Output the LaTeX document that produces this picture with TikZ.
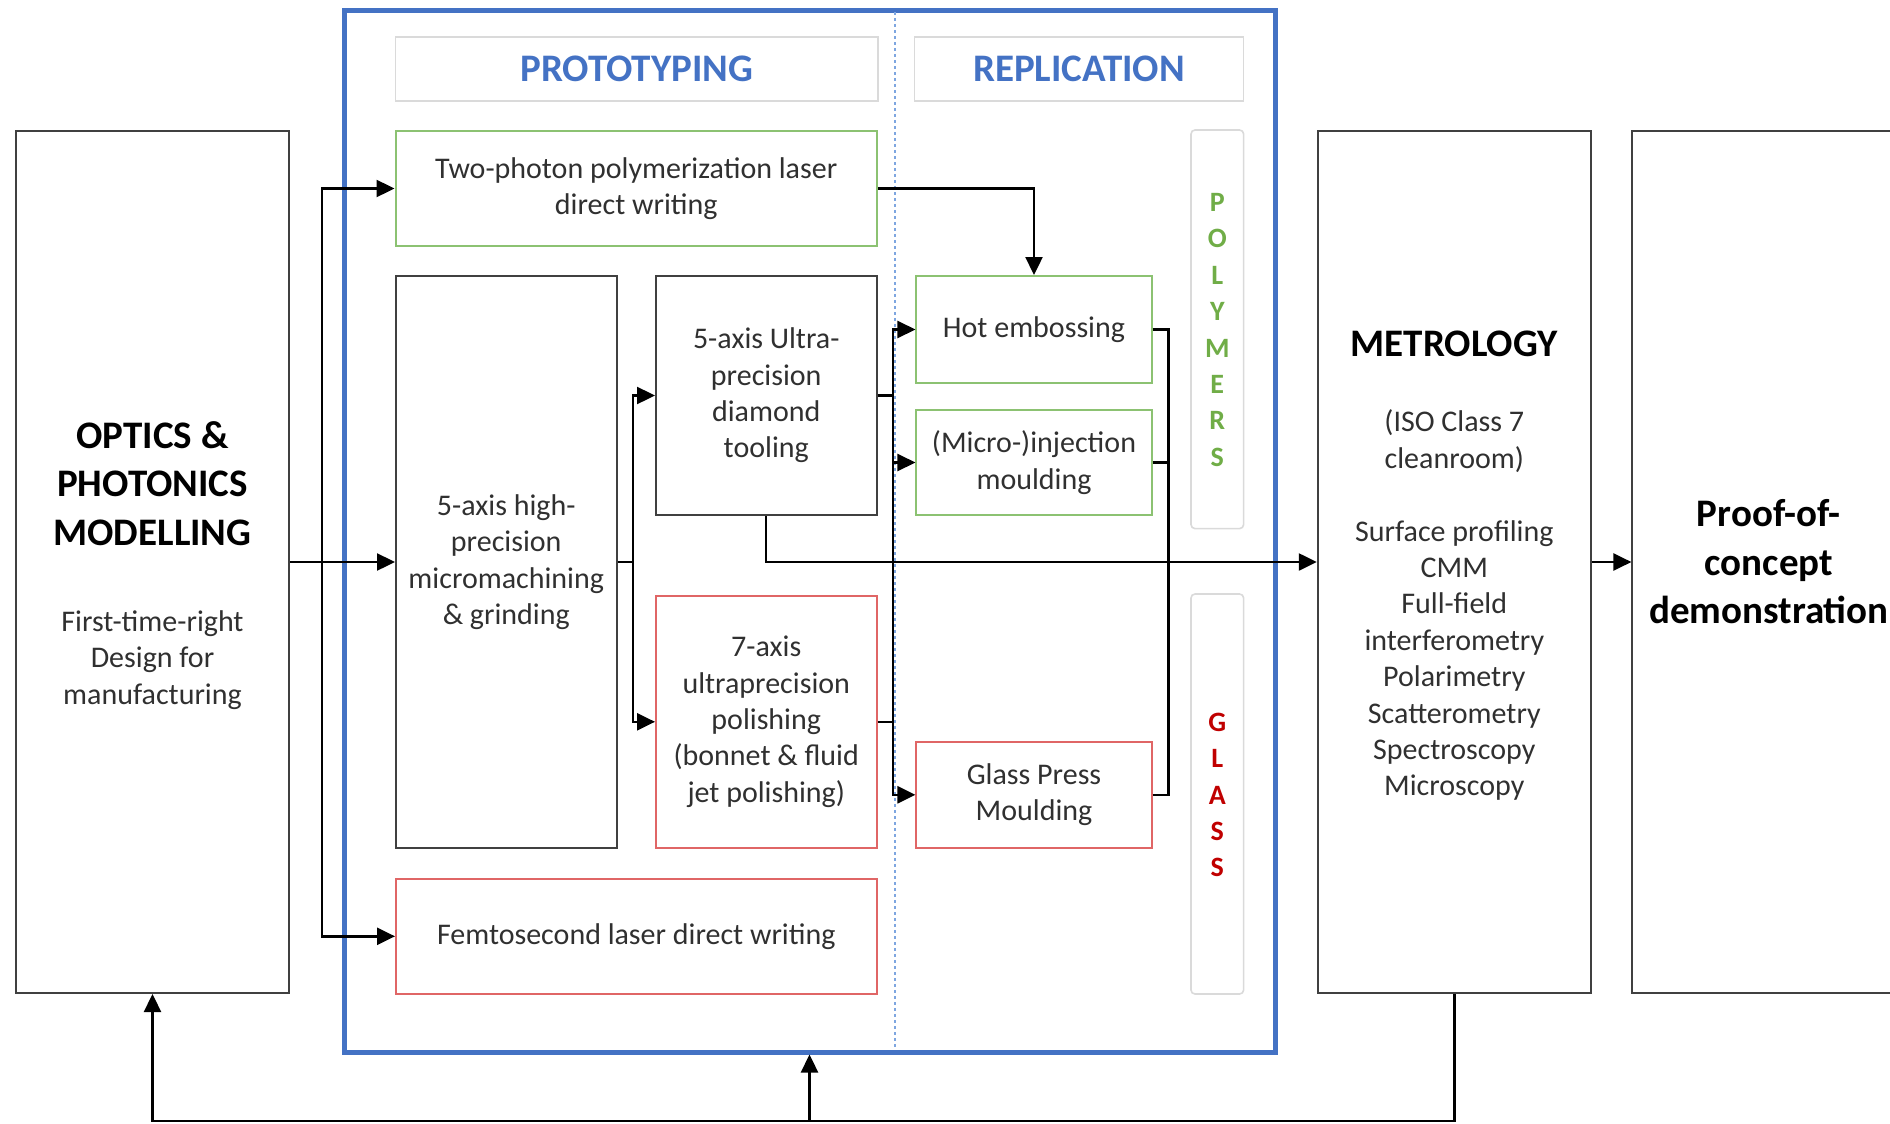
\documentclass[tikz,border=0pt]{standalone}
\usepackage{fontspec}
\setmainfont{Carlito}
\usetikzlibrary{arrows.meta}
\definecolor{frameblue}{HTML}{4472C4}
\definecolor{dotblue}{HTML}{7EA6E0}
\definecolor{gborder}{HTML}{8CC272}
\definecolor{rborder}{HTML}{E06666}
\definecolor{gtext}{HTML}{70AD47}
\definecolor{rtext}{HTML}{C00000}
\definecolor{kborder}{HTML}{404040}
\definecolor{hborder}{HTML}{DADADA}
\definecolor{bodytext}{HTML}{303030}
\begin{document}
\begin{tikzpicture}[x=0.5pt,y=-0.5pt,
  kbox/.style={draw=kborder, line width=1pt, rectangle, inner sep=0},
  gbox/.style={draw=gborder, line width=1pt, rectangle, inner sep=0},
  rbox/.style={draw=rborder, line width=1pt, rectangle, inner sep=0},
  hbox/.style={draw=hborder, line width=0.8pt, rectangle, inner sep=0},
  stripbox/.style={draw=hborder, line width=0.8pt, rectangle, rounded corners=2pt, inner sep=0},
  body/.style={align=center, text=bodytext, font=\fontsize{15}{18.2}\selectfont, inner sep=0},
  boldtxt/.style={align=center, font=\fontsize{19.5}{24.25}\selectfont\bfseries, inner sep=0},
  hdr/.style={font=\fontsize{19.5}{24}\selectfont\bfseries, text=frameblue, inner sep=0},
  vert/.style={align=center, font=\fontsize{14}{18.2}\selectfont\bfseries, inner sep=0},
  conn/.style={line width=1.2pt, draw=black},
  arr/.style={conn, -{Triangle[length=9pt,width=8.5pt]}}
]
\useasboundingbox (0,0) rectangle (1890,1124);

% outer blue frame and divider
\node[draw=frameblue, line width=2.5pt, minimum width=465.5pt, minimum height=521pt, inner sep=0] (frame) at (809.5,531) {};
\coordinate (dTop) at (894.6,12);
\coordinate (dBot) at (894.6,1050);
\draw[dotblue, line width=1pt, dash pattern=on 1.5pt off 1.5pt] (dTop) -- (dBot);

% headers
\node[hbox, minimum width=241.25pt, minimum height=32pt] (hdrP) at (636.75,69) {};
\node[hdr] (hdrPt) at (hdrP) {PROTOTYPING};
\node[hbox, minimum width=164.55pt, minimum height=32pt] (hdrR) at (1079,69) {};
\node[hdr] (hdrRt) at (hdrR) {REPLICATION};

% left box
\node[kbox, minimum width=136.5pt, minimum height=431pt] (opt) at (152.5,562) {};
\node[boldtxt] (optT) at (152.5,483.5) {OPTICS \&\\PHOTONICS\\MODELLING};
\node[body] (optS) at (152.5,660) {First-time-right\\Design for\\manufacturing};

% prototyping boxes
\node[gbox, minimum width=240.75pt, minimum height=57.5pt] (tp) at (636.25,188.5) {};
\node[body] (tpT) at (tp) {Two-photon polymerization laser\\direct writing};

\node[kbox, minimum width=110.25pt, minimum height=285.8pt] (hp) at (506.25,562) {};
\node[body] (hpT) at (hp) {5-axis high-\\precision\\micromachining\\\& grinding};

\node[kbox, minimum width=110.25pt, minimum height=119.5pt] (up) at (766.25,395.5) {};
\node[body] (upT) at (up) {5-axis Ultra-\\precision\\diamond\\tooling};

\node[rbox, minimum width=110.25pt, minimum height=125.8pt] (pol) at (766.25,721.8) {};
\node[body] (polT) at (pol) {7-axis\\ultraprecision\\polishing\\(bonnet \& fluid\\jet polishing)};

\node[rbox, minimum width=240.25pt, minimum height=57.3pt] (fs) at (636.25,936.3) {};
\node[body] (fsT) at (fs) {Femtosecond laser direct writing};

% replication boxes
\node[gbox, minimum width=117.55pt, minimum height=53.5pt] (hot) at (1034,329.5) {};
\node[body] (hotT) at (hot) {Hot embossing};
\node[gbox, minimum width=117.55pt, minimum height=52.5pt] (inj) at (1034,462.5) {};
\node[body] (injT) at (inj) {(Micro-)injection\\moulding};
\node[rbox, minimum width=117.55pt, minimum height=52.8pt] (gpm) at (1034,794.8) {};
\node[body] (gpmT) at (gpm) {Glass Press\\Moulding};

% material strips
\node[stripbox, minimum width=26.3pt, minimum height=199.3pt] (polyS) at (1217.3,329.3) {};
\node[vert, text=gtext] (polyT) at (1217.3,330) {P\\O\\L\\Y\\M\\E\\R\\S};
\node[stripbox, minimum width=26.3pt, minimum height=200pt] (glassS) at (1217.3,794) {};
\node[vert, text=rtext] (glassT) at (1217.3,795) {G\\L\\A\\S\\S};

% metrology and proof of concept
\node[kbox, minimum width=136.5pt, minimum height=431pt] (met) at (1454.3,562) {};
\node[boldtxt] (metT) at (1454.3,344) {METROLOGY};
\node[body] (metS) at (1454.3,605.4) {(ISO Class 7\\cleanroom)\\[18.2pt]Surface profiling\\CMM\\Full-field\\interferometry\\Polarimetry\\Scatterometry\\Spectroscopy\\Microscopy};
\node[kbox, minimum width=136.5pt, minimum height=431pt] (poc) at (1768.9,562) {};
\node[boldtxt] (pocT) at (1768.9,562) {Proof-of-\\concept\\demonstration};

% connectors
\coordinate (j1) at (322,562);
\coordinate (j2) at (633,562);
\coordinate (j3) at (893,395.5);
\coordinate (j4) at (1168.6,562);
\coordinate (b1) at (1454.3,1121);

\draw[arr] (opt.east) -- (hp.west);
\draw[arr] (j1) |- (tp.west);
\draw[arr] (j1) |- (fs.west);

\draw[conn] (hp.east) -- (j2);
\draw[arr] (j2) |- (up.west);
\draw[arr] (j2) |- (pol.west);

\draw[conn] (up.east) -- (j3);
\draw[conn] (pol.east) -- (pol.east -| j3);
\draw[arr] (j3) |- (hot.west);
\draw[arr] (j3) |- (inj.west);
\draw[arr] (j3) |- (gpm.west);

\draw[arr] (tp.east) -| (hot.north);

\draw[conn] (hot.east) -| (j4);
\draw[conn] (inj.east) -| (j4);
\draw[conn] (gpm.east) -| (j4);

\draw[arr] (up.south) |- (met.west);
\draw[arr] (met.east) -- (poc.west);

\draw[arr] (met.south) -- (b1) -| (opt.south);
\draw[arr] (frame.south |- b1) -- (frame.south);
\end{tikzpicture}
\end{document}
